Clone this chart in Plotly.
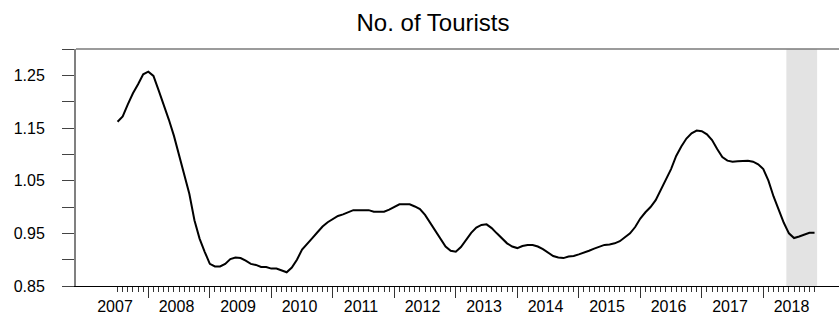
import plotly.graph_objects as go

# ---- data -------------------------------------------------------------
start_year, start_month = 2007, 7          # first observation: 2007M07
tourists = [
    # 2007 M07..M12
    1.162, 1.172, 1.195, 1.216, 1.233, 1.252,
    # 2008
    1.257, 1.249, 1.222, 1.196, 1.166, 1.135, 1.097, 1.063, 1.025, 0.975, 0.940, 0.915,
    # 2009
    0.892, 0.887, 0.887, 0.892, 0.901, 0.904, 0.903, 0.898, 0.892, 0.890, 0.886, 0.886,
    # 2010
    0.883, 0.883, 0.880, 0.876, 0.885, 0.900, 0.919, 0.931, 0.941, 0.952, 0.963, 0.971,
    # 2011
    0.977, 0.983, 0.986, 0.990, 0.994, 0.994, 0.994, 0.994, 0.991, 0.991, 0.991, 0.995,
    # 2012
    1.000, 1.005, 1.005, 1.005, 1.001, 0.996, 0.985, 0.970, 0.955, 0.940, 0.925, 0.917,
    # 2013
    0.915, 0.924, 0.938, 0.951, 0.961, 0.966, 0.967, 0.960, 0.950, 0.940, 0.931, 0.925,
    # 2014
    0.922, 0.926, 0.928, 0.928, 0.925, 0.920, 0.913, 0.907, 0.904, 0.903, 0.906, 0.907,
    # 2015
    0.910, 0.913, 0.917, 0.921, 0.925, 0.928, 0.929, 0.931, 0.935, 0.942, 0.950, 0.962,
    # 2016
    0.978, 0.990, 1.000, 1.013, 1.032, 1.050, 1.072, 1.097, 1.115, 1.130, 1.140, 1.145,
    # 2017
    1.144, 1.138, 1.127, 1.110, 1.095, 1.088, 1.086, 1.087, 1.088, 1.088, 1.086, 1.081,
    # 2018 M01..M11
    1.072, 1.050, 1.020, 0.994, 0.970, 0.950, 0.941, 0.944, 0.948, 0.951, 0.951,
]
year_labels = [str(y) for y in range(2007, 2019)]
shade_start = (2018, 6)   # shaded period 2018M06 .. 2018M11
shade_end = (2018, 11)
y_tick_values = [0.85, 0.90, 0.95, 1.00, 1.05, 1.10, 1.15, 1.20, 1.25, 1.30]
y_tick_labels = ["0.85", "", "0.95", "", "1.05", "", "1.15", "", "1.25", ""]
title_text = "No. of Tourists"

# ---- derived positions (decimal years, equal monthly spacing) ---------
def ym_to_x(y, m):
    return y + (m - 1) / 12.0

x_obs = []
y_, m_ = start_year, start_month
for _ in tourists:
    x_obs.append(ym_to_x(y_, m_))
    m_ += 1
    if m_ > 12:
        m_ = 1
        y_ += 1

label_pos = [int(y) + 5.5 / 12.0 for y in year_labels]
major_pos = [float(y) for y in year_labels[1:]]

FONT = "Liberation Sans, Arial, sans-serif"

fig = go.Figure()
fig.add_trace(go.Scatter(
    x=x_obs, y=tourists, mode="lines",
    line=dict(color="black", width=2),
    hoverinfo="x+y", showlegend=False,
))
# invisible trace so the overlay axis (year ticks) is drawn
fig.add_trace(go.Scatter(
    x=x_obs, y=tourists, xaxis="x2", mode="lines",
    line=dict(width=0, color="rgba(0,0,0,0)"), hoverinfo="skip", showlegend=False,
))

x_range = [2006.824, 2019.231]

fig.add_shape(
    type="rect", xref="x", yref="paper",
    x0=ym_to_x(*shade_start) - 0.5 / 12, x1=ym_to_x(*shade_end) + 0.5 / 12,
    y0=0, y1=1, fillcolor="#e3e3e3", line=dict(width=0), layer="below",
)
# top frame line
fig.add_shape(
    type="line", xref="paper", yref="paper", x0=0, x1=1, y0=1, y1=1,
    line=dict(color="#7a7a7a", width=1.5), layer="above",
)

fig.update_layout(
    width=839, height=314,
    margin=dict(l=76, r=0, t=49, b=28, autoexpand=False),
    paper_bgcolor="white", plot_bgcolor="white",
    font=dict(family=FONT, size=16, color="black"),
    title=dict(text=title_text, x=433 / 839, xanchor="center", xref="container",
               y=1 - 23 / 314, yanchor="middle", yref="container", automargin=False,
               font=dict(family=FONT, size=24, color="black")),
    xaxis=dict(
        range=x_range, tickmode="array", tickvals=label_pos, ticktext=year_labels,
        ticks="", showgrid=False, zeroline=False, automargin=False,
        showline=True, linecolor="black", linewidth=1.3,
        tickfont=dict(family=FONT, size=16, color="black"),
        ticklabelstandoff=6,
        minor=dict(tickmode="array", tickvals=x_obs, ticks="outside", ticklen=5,
                   tickwidth=1, tickcolor="#333333", showgrid=False),
    ),
    xaxis2=dict(
        range=x_range, overlaying="x", anchor="y", side="bottom", automargin=False,
        tickmode="array", tickvals=major_pos, ticks="outside", ticklen=11,
        tickwidth=1.3, tickcolor="#333333", showticklabels=False,
        showgrid=False, zeroline=False, showline=False,
    ),
    yaxis=dict(
        range=[0.85, 1.30], tickmode="array", tickvals=y_tick_values,
        ticktext=y_tick_labels, ticks="outside", ticklen=12, tickwidth=1.3,
        tickcolor="#444444", showgrid=False, zeroline=False, automargin=False,
        showline=True, linecolor="#808080", linewidth=2,
        tickfont=dict(family=FONT, size=16, color="black"),
        ticklabelstandoff=14,
    ),
)

fig.write_html("out.html", config={"displayModeBar": False},
               post_script="document.body.style.margin='0';")
